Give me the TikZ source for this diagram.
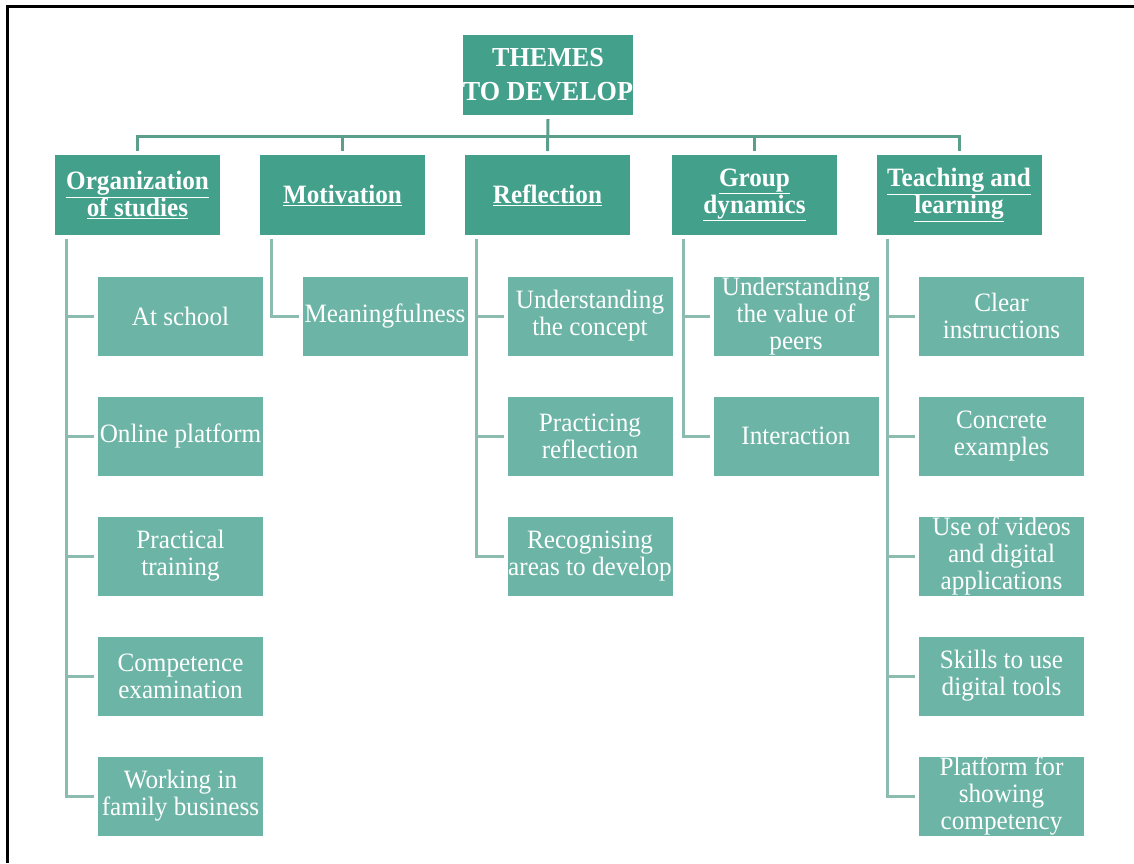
\documentclass[tikz,border=0pt]{standalone}
\usepackage{fontspec}
\setmainfont{Liberation Serif}[FakeStretch=0.95]
\usepackage{tikz}
\usepackage{xcolor}
\usetikzlibrary{positioning, shadows}
\definecolor{themeteal}{RGB}{66,160,139}
\definecolor{subteal}{RGB}{108,181,166}
\definecolor{linkteal}{RGB}{92,158,140}
\definecolor{sublink}{RGB}{140,187,176}

\begin{document}
\begin{tikzpicture}[x=1pt, y=1pt,
    boxbase/.style={draw=white, line width=4pt, inner sep=0pt, align=center, text=white,
      drop shadow={opacity=0.3, shadow xshift=1.5pt, shadow yshift=-2pt}},
    themebox/.style={boxbase, fill=themeteal, minimum width=169pt, minimum height=84pt,
      font=\fontsize{26.5}{27}\selectfont\bfseries},
    subbox/.style={boxbase, fill=subteal, minimum width=169pt, minimum height=83pt,
      font=\fontsize{26.5}{27}\selectfont},
    toplink/.style={draw=linkteal, line width=3pt},
    sublinkst/.style={draw=sublink, line width=3pt}]
    \useasboundingbox (0,0) rectangle (1134,-863);
    \draw[line width=3pt] (7,-863) -- (7,-6) -- (1134,-6); %frame
    %
    \node[themebox, minimum width=174pt, font=\fontsize{27.5}{34}\selectfont\bfseries] (root) at (548,-75) {THEMES\\TO DEVELOP};
    \coordinate (bar) at (548,-136);
    %
    \node[themebox] (org) at (137.5,-195) {\underline{Organization}\\\underline{of studies}};
    \node[themebox] (mot) at (342.5,-195) {\underline{Motivation}};
    \node[themebox] (refl) at (547.5,-195) {\underline{Reflection}};
    \node[themebox] (grp) at (754.5,-195) {\underline{Group}\\\underline{dynamics}};
    \node[themebox] (teach) at (959,-195) {\underline{Teaching and}\\\underline{learning}};
    %
    \draw[toplink] (root.south) -- (refl.north);
    \draw[toplink] (org.north) |- (bar) -| (teach.north);
    \draw[toplink] (mot.north) -- (mot.north |- bar);
    \draw[toplink] (grp.north) -- (grp.north |- bar);
    %
    \node[subbox] (org1) at (180.5,-316) {At school};
    \node[subbox] (org2) at (180.5,-436) {Online platform};
    \node[subbox] (org3) at (180.5,-556) {Practical\\training};
    \node[subbox] (org4) at (180.5,-676) {Competence\\examination};
    \node[subbox] (org5) at (180.5,-796) {Working in\\family business};
    %
    \node[subbox] (mot1) at (385,-316) {Meaningfulness};
    %
    \node[subbox] (refl1) at (590,-316) {Understanding\\the concept};
    \node[subbox] (refl2) at (590,-436) {Practicing\\reflection};
    \node[subbox] (refl3) at (590,-556) {Recognising\\areas to develop};
    %
    \node[subbox] (grp1) at (796,-316) {Understanding\\the value of\\peers};
    \node[subbox] (grp2) at (796,-436) {Interaction};
    %
    \node[subbox] (teach1) at (1001.5,-316) {Clear\\instructions};
    \node[subbox] (teach2) at (1001.5,-436) {Concrete\\examples};
    \node[subbox] (teach3) at (1001.5,-556) {Use of videos\\and digital\\applications};
    \node[subbox] (teach4) at (1001.5,-676) {Skills to use\\digital tools};
    \node[subbox] (teach5) at (1001.5,-796) {Platform for\\showing\\competency};
    %
    \draw[sublinkst] ([xshift=15pt]org.south west) |- (org1.west);
    \draw[sublinkst] ([xshift=15pt]org.south west) |- (org2.west);
    \draw[sublinkst] ([xshift=15pt]org.south west) |- (org3.west);
    \draw[sublinkst] ([xshift=15pt]org.south west) |- (org4.west);
    \draw[sublinkst] ([xshift=15pt]org.south west) |- (org5.west);
    %
    \draw[sublinkst] ([xshift=15pt]mot.south west) |- (mot1.west);
    %
    \draw[sublinkst] ([xshift=15pt]refl.south west) |- (refl1.west);
    \draw[sublinkst] ([xshift=15pt]refl.south west) |- (refl2.west);
    \draw[sublinkst] ([xshift=15pt]refl.south west) |- (refl3.west);
    %
    \draw[sublinkst] ([xshift=15pt]grp.south west) |- (grp1.west);
    \draw[sublinkst] ([xshift=15pt]grp.south west) |- (grp2.west);
    %
    \draw[sublinkst] ([xshift=15pt]teach.south west) |- (teach1.west);
    \draw[sublinkst] ([xshift=15pt]teach.south west) |- (teach2.west);
    \draw[sublinkst] ([xshift=15pt]teach.south west) |- (teach3.west);
    \draw[sublinkst] ([xshift=15pt]teach.south west) |- (teach4.west);
    \draw[sublinkst] ([xshift=15pt]teach.south west) |- (teach5.west);
\end{tikzpicture}
\end{document}
